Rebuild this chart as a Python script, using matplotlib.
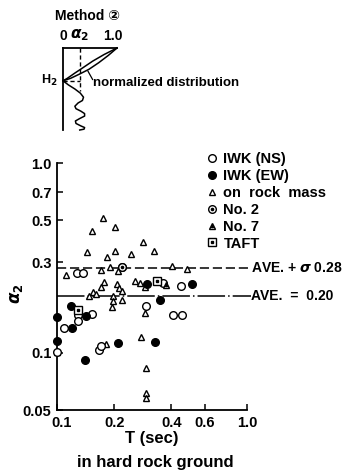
import numpy as np
import matplotlib
matplotlib.use("Agg")
import matplotlib.pyplot as plt
import matplotlib.transforms as mtransforms
from matplotlib.lines import Line2D
from matplotlib.legend_handler import HandlerTuple

plt.rcParams['font.family'] = ['Liberation Sans', 'DejaVu Sans']
plt.rcParams['font.weight'] = 'bold'
plt.rcParams['axes.labelweight'] = 'bold'
plt.rcParams['mathtext.fontset'] = 'dejavusans'

# ---------------- data ----------------
iwk_ns_T = [0.109, 0.129, 0.129, 0.152, 0.128, 0.137, 0.221, 0.167, 0.170,
            0.294, 0.407, 0.453, 0.447, 0.360, 0.100]
iwk_ns_a = [0.135, 0.159, 0.148, 0.160, 0.262, 0.262, 0.284, 0.104, 0.109,
            0.177, 0.158, 0.158, 0.225, 0.233, 0.101]

iwk_ew_T = [0.100, 0.100, 0.119, 0.120, 0.142, 0.140, 0.209, 0.299, 0.326, 0.349, 0.512]
iwk_ew_a = [0.155, 0.115, 0.177, 0.135, 0.157, 0.092, 0.113, 0.230, 0.114, 0.190, 0.230]

rock_T = [0.174, 0.153, 0.203, 0.284, 0.143, 0.201, 0.245, 0.324, 0.183, 0.403,
          0.484, 0.112, 0.170, 0.190, 0.209, 0.177, 0.170, 0.155, 0.148, 0.160,
          0.208, 0.213, 0.219, 0.198, 0.196, 0.219, 0.194, 0.257, 0.273, 0.290,
          0.290, 0.181, 0.276, 0.294, 0.294, 0.294, 0.100]
rock_a = [0.515, 0.440, 0.460, 0.385, 0.340, 0.345, 0.332, 0.344, 0.320, 0.285,
          0.278, 0.256, 0.272, 0.282, 0.270, 0.237, 0.221, 0.208, 0.200, 0.204,
          0.230, 0.219, 0.213, 0.200, 0.188, 0.190, 0.175, 0.239, 0.233, 0.223,
          0.162, 0.112, 0.121, 0.0831, 0.0618, 0.0578, 0.101]

no2_T = [0.221]
no2_a = [0.284]

no7_T = [0.374]
no7_a = [0.228]

taft_T = [0.335, 0.129]
taft_a = [0.239, 0.168]

ave = 0.20
ave_sigma = 0.28

x_ticks = [0.1, 0.2, 0.4, 0.6, 1.0]
x_ticklabels = ['0.1', '0.2', '0.4', '0.6', '1.0']
y_ticks = [0.05, 0.1, 0.3, 0.5, 0.7, 1.0]
y_ticklabels = ['0.05', '0.1', '0.3', '0.5', '0.7', '1.0']

# inset schematic (alpha_2 normalized vs depth, depth 0 = surface, 1 = bottom)
inset_H2 = 0.40
inset_mean = 0.31
curve1_a = [1.0, 0.84, 0.66, 0.48, 0.30, 0.14, 0.0]
curve1_d = [0.0, 0.09, 0.18, 0.26, 0.32, 0.37, 0.40]
curve2_a = [1.0, 0.76, 0.55, 0.37, 0.21, 0.08, 0.0]
curve2_d = [0.0, 0.08, 0.16, 0.24, 0.31, 0.37, 0.40]
wave_a = [0.0, 0.10, 0.22, 0.32, 0.38, 0.36, 0.28, 0.22, 0.24, 0.33, 0.40, 0.40, 0.31, 0.23, 0.24, 0.33, 0.40, 0.39, 0.31]
wave_d = [0.40, 0.45, 0.50, 0.55, 0.60, 0.64, 0.67, 0.71, 0.74, 0.77, 0.80, 0.83, 0.86, 0.89, 0.92, 0.95, 0.97, 0.99, 1.0]

# ---------------- figure ----------------
W, H = 357, 472
fig = plt.figure(figsize=(W / 100, H / 100), dpi=100)

def px_axes(x0, y0, x1, y1):
    return [x0 / W, 1 - y1 / H, (x1 - x0) / W, (y1 - y0) / H]

ax = fig.add_axes(px_axes(57, 163, 247, 410))
ax.set_xscale('log')
ax.set_yscale('log')
ax.set_xlim(0.1, 1.0)
ax.set_ylim(0.05, 1.0)
for s in ['top', 'right']:
    ax.spines[s].set_visible(False)
for s in ['left', 'bottom']:
    ax.spines[s].set_linewidth(1.3)
ax.minorticks_off()
ax.set_xticks(x_ticks)
ax.set_xticklabels(x_ticklabels)
ax.set_yticks(y_ticks)
ax.set_yticklabels(y_ticklabels)
ax.tick_params(direction='in', length=4, width=1.1, labelsize=10.5, pad=4)
# the "0.1" label sits slightly right of the corner
lbl0 = ax.get_xticklabels()[0]
lbl0.set_transform(lbl0.get_transform() + mtransforms.ScaledTranslation(5 / 100, 0, fig.dpi_scale_trans))

ms = 5.5
ax.plot(rock_T, rock_a, ls='none', marker='^', ms=4.5, mfc='white', mec='black', mew=1.0, clip_on=False, zorder=3)
ax.plot(iwk_ns_T, iwk_ns_a, ls='none', marker='o', ms=ms, mfc='white', mec='black', mew=1.0, clip_on=False, zorder=4)
ax.plot(iwk_ew_T, iwk_ew_a, ls='none', marker='o', ms=ms, mfc='black', mec='black', mew=1.0, clip_on=False, zorder=4)
ax.plot(no2_T, no2_a, ls='none', marker='o', ms=ms, mfc='white', mec='black', mew=1.0, zorder=5)
ax.plot(no2_T, no2_a, ls='none', marker='o', ms=1.6, mfc='black', mec='black', zorder=6)
ax.plot(no7_T, no7_a, ls='none', marker='^', ms=5, mfc='white', mec='black', mew=1.0, zorder=5)
ax.plot(no7_T, no7_a, ls='none', marker='^', ms=1.6, mfc='black', mec='black', zorder=6)
ax.plot(taft_T, taft_a, ls='none', marker='s', ms=5.5, mfc='white', mec='black', mew=1.0, zorder=5)
ax.plot(taft_T, taft_a, ls='none', marker='s', ms=1.5, mfc='black', mec='black', zorder=6)

# average lines
x_end = 1.05
ax.plot([0.1, x_end], [ave_sigma, ave_sigma], color='black', lw=1.1, ls=(0, (6, 2.5)), clip_on=False, zorder=2)
ax.plot([0.1, x_end], [ave, ave], color='black', lw=1.1, ls=(0, (18, 2, 1, 2)), clip_on=False, zorder=2)
ax.text(x_end * 1.005, ave_sigma, 'AVE. + $\\sigma$ 0.28', ha='left', va='center', fontsize=10, clip_on=False)
ax.text(x_end * 1.005, ave, 'AVE.  =  0.20', ha='left', va='center', fontsize=10, clip_on=False)

ax.set_xlabel('T (sec)', fontsize=12, labelpad=1)
ax.set_ylabel('$\\alpha_2$', fontsize=12)
ax.yaxis.set_label_coords(-0.17, 0.47)
fig.text(155 / W, 1 - 462 / H, 'in hard rock ground', ha='center', va='center', fontsize=12)

# legend
def mk(marker, fc, size=5.5):
    return Line2D([], [], ls='none', marker=marker, ms=size, mfc=fc, mec='black', mew=1.0)

handles = [mk('o', 'white'), mk('o', 'black'), mk('^', 'white', 4.5),
           (mk('o', 'white'), mk('o', 'black', 1.6)),
           (mk('^', 'white', 5), mk('^', 'black', 1.6)),
           (mk('s', 'white', 5.5), mk('s', 'black', 1.5))]
labels = ['IWK (NS)', 'IWK (EW)', 'on  rock  mass', 'No. 2', 'No. 7', 'TAFT']
leg = fig.legend(handles, labels, loc='upper left', bbox_to_anchor=(206 / W, 1 - 152 / H),
                 frameon=False, fontsize=10.5, handlelength=0.8, handletextpad=0.4,
                 labelspacing=0.2, borderpad=0, borderaxespad=0,
                 handler_map={tuple: HandlerTuple(ndivide=1, pad=0)})

# inset schematic
ins = fig.add_axes(px_axes(63, 48, 117, 130))
ins.set_xlim(0, 1)
ins.set_ylim(1, 0)
ins.axis('off')
ins.plot([0, 0], [0, 1], color='black', lw=1.3, clip_on=False)
ins.plot([0, 1], [0, 0], color='black', lw=1.3, clip_on=False)
ins.plot([inset_mean, inset_mean], [0, inset_H2 + 0.12], color='black', lw=1.0, ls=(0, (3, 2)), clip_on=False)
ins.plot([0, inset_mean], [inset_H2, inset_H2], color='black', lw=1.0, ls=(0, (3, 2)), clip_on=False)
ins.plot(curve1_a, curve1_d, color='black', lw=1.1, clip_on=False)
ins.plot(curve2_a, curve2_d, color='black', lw=1.1, clip_on=False)
ins.plot(wave_a, wave_d, color='black', lw=1.1, clip_on=False)
ins.annotate('normalized distribution', xy=(0.46, 0.28), xytext=(0.55, 0.43),
             fontsize=9.5, ha='left', va='center', annotation_clip=False,
             arrowprops=dict(arrowstyle='-', lw=0.9, color='black', shrinkA=0, shrinkB=0,
                             patchA=None, relpos=(0.0, 0.8)))
ins.text(-0.1, inset_H2, 'H$_2$', ha='right', va='center', fontsize=9)
ins.text(0.0, -0.06, '0', ha='center', va='bottom', fontsize=10)
ins.text(0.31, -0.06, '$\\alpha_2$', ha='center', va='bottom', fontsize=11)
ins.text(0.92, -0.06, '1.0', ha='center', va='bottom', fontsize=10)
ins.text(0.45, -0.30, 'Method \u2461', ha='center', va='bottom', fontsize=10,
         family=['Liberation Sans', 'DejaVu Sans'])

fig.savefig('out.png', dpi=100)
